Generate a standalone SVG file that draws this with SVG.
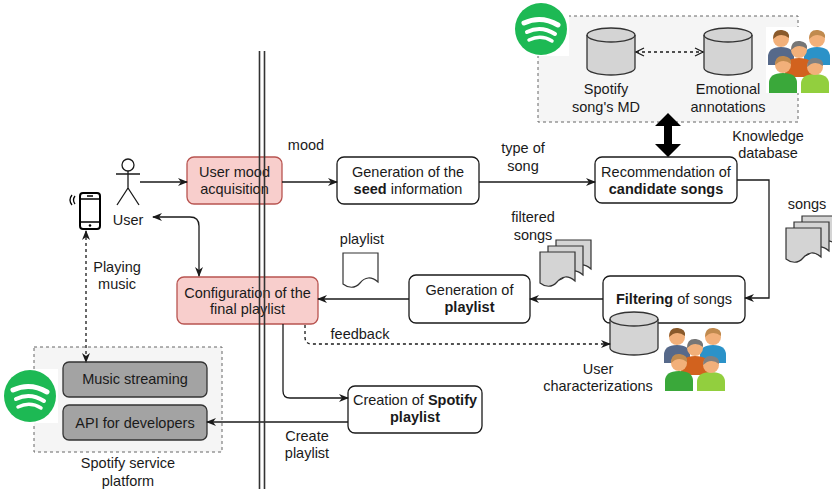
<svg xmlns="http://www.w3.org/2000/svg" width="832" height="489" viewBox="0 0 832 489">
  <style>
    text { font-family: "Liberation Sans", Arial, sans-serif; font-size: 14.5px; fill: #1a1a1a; text-anchor: middle; }
    .b { font-weight: bold; }
    .box { fill: #ffffff; stroke: #1a1a1a; stroke-width: 1.3; }
    .pink { fill: #f8cecc; stroke: #b85450; stroke-width: 1.3; }
    .dark { fill: #a3a3a3; stroke: #333333; stroke-width: 1.3; }
    .group { fill: #f5f5f5; stroke: #666666; stroke-width: 1; stroke-dasharray: 3 3; }
    .cyl { fill: #d4d4d4; stroke: #333333; stroke-width: 1.3; }
    .doc { fill: #d4d4d4; stroke: #333333; stroke-width: 1.2; }
    .edge { fill: none; stroke: #1a1a1a; stroke-width: 1.3; }
    .dash { fill: none; stroke: #1a1a1a; stroke-width: 1.3; stroke-dasharray: 3 3; }
    .rail { stroke: #333333; stroke-width: 1.6; }
    .skin { fill: #f2b07a; }
  </style>
  <defs>
    <marker id="arr" viewBox="0 0 10 10" refX="9" refY="5" markerWidth="10" markerHeight="10" markerUnits="userSpaceOnUse" orient="auto-start-reverse">
      <path d="M0,1 L10,5 L0,9 L3,5 Z" fill="#1a1a1a"/>
    </marker>
    <marker id="open" viewBox="0 0 10 10" refX="9" refY="5" markerWidth="10" markerHeight="10" markerUnits="userSpaceOnUse" orient="auto-start-reverse">
      <path d="M1,1 L9,5 L1,9" fill="none" stroke="#1a1a1a" stroke-width="1.2"/>
    </marker>
    <!-- Spotify badge: green disc with three white arcs -->
    <g id="spotify">
      <rect x="-28" y="-27" width="56" height="54" fill="#ffffff"/>
      <circle r="26" fill="#1db954"/>
      <path d="M-17,-6 Q0,-14 17,-4" fill="none" stroke="#ffffff" stroke-width="5" stroke-linecap="round"/>
      <path d="M-14,3 Q0,-4 14,5" fill="none" stroke="#ffffff" stroke-width="4" stroke-linecap="round"/>
      <path d="M-12,11 Q0,5 11,12" fill="none" stroke="#ffffff" stroke-width="3.5" stroke-linecap="round"/>
    </g>
    <!-- group of five people -->
    <g id="people">
      <rect x="0" y="0" width="66" height="66" fill="#ffffff"/>
      <path d="M2,38 V30 Q2,20 15,20 Q28,20 28,30 V38 Z" fill="#56698a"/>
      <circle class="skin" cx="15" cy="12" r="8"/>
      <path d="M7,12 Q7,2 16,3 Q24,4 23,11 Q17,6 11,9 Z" fill="#8a5a2b"/>
      <path d="M38,38 V30 Q38,20 51,20 Q64,20 64,30 V38 Z" fill="#2b92c8"/>
      <circle class="skin" cx="51" cy="12" r="8"/>
      <path d="M43,12 Q43,2 52,3 Q60,4 59,11 Q53,6 47,9 Z" fill="#c08a4e"/>
      <path d="M19,50 V41 Q19,31 33,31 Q47,31 47,41 V50 Z" fill="#d2621e"/>
      <circle class="skin" cx="33" cy="23" r="8"/>
      <path d="M25,23 Q25,13 34,14 Q42,15 41,22 Q35,17 29,20 Z" fill="#767676"/>
      <path d="M3,66 V56 Q3,46 17,46 Q31,46 31,56 V66 Z" fill="#3aa83a"/>
      <circle class="skin" cx="17" cy="38" r="8"/>
      <path d="M9,38 Q9,28 18,29 Q26,30 25,37 Q19,32 13,35 Z" fill="#c08a4e"/>
      <path d="M35,66 V57 Q35,47 49,47 Q63,47 63,57 V66 Z" fill="#92cf3e"/>
      <circle class="skin" cx="49" cy="40" r="8"/>
      <path d="M41,40 Q41,30 50,31 Q58,32 57,39 Q51,34 45,37 Z" fill="#808080"/>
    </g>
    <!-- document with wavy lower edge -->
    <path id="docshape" d="M0,0 H35 V29 C28,23 22,24 17,30 C12,36 5,35 0,31 Z"/>
  </defs>

  <!-- Knowledge database -->
  <g id="knowledge-db">
    <rect class="group" x="538" y="16" width="260" height="106"/>
    <use href="#spotify" x="541" y="29"/>
    <use href="#people" x="766" y="27"/>
    <text x="768" y="141">Knowledge</text>
    <text x="768" y="158">database</text>
  </g>
  <g id="songs-md">
    <path class="cyl" d="M587,35 A24,7 0 0 1 635,35 V68 A24,7 0 0 1 587,68 Z"/>
    <path fill="none" stroke="#333333" stroke-width="1.3" d="M587,35 A24,7 0 0 0 635,35"/>
    <text x="606" y="94">Spotify</text>
    <text x="606" y="112">song's MD</text>
  </g>
  <g id="emotional-annotations">
    <path class="cyl" d="M704,35 A24,7 0 0 1 752,35 V68 A24,7 0 0 1 704,68 Z"/>
    <path fill="none" stroke="#333333" stroke-width="1.3" d="M704,35 A24,7 0 0 0 752,35"/>
    <text x="728" y="94">Emotional</text>
    <text x="728" y="112">annotations</text>
  </g>

  <!-- Spotify service platform -->
  <g id="spotify-platform">
    <rect class="group" x="34" y="347" width="188" height="105"/>
    <use href="#spotify" x="30" y="396"/>
    <text x="128" y="468">Spotify service</text>
    <text x="128" y="486">platform</text>
  </g>
  <g id="music-streaming">
    <rect class="dark" x="63" y="362" width="144" height="35" rx="6"/>
    <text x="135" y="384">Music streaming</text>
  </g>
  <g id="api-developers">
    <rect class="dark" x="63" y="405" width="144" height="35" rx="6"/>
    <text x="135" y="428">API for developers</text>
  </g>

  <!-- User and device -->
  <g id="user" fill="none" stroke="#1a1a1a" stroke-width="1.3">
    <circle cx="128" cy="165" r="6" fill="#ffffff"/>
    <path d="M128,171 V188 M116,174 H140 M128,188 L117,205 M128,188 L139,205"/>
    <text x="128" y="225" stroke="none">User</text>
  </g>
  <g id="phone" fill="none" stroke="#000000">
    <rect x="80" y="193" width="20" height="36" rx="3" stroke-width="2"/>
    <path d="M81,199 H99 M81,222 H99 M87,196 H93" stroke-width="1.3"/>
    <circle cx="90" cy="225.5" r="1.3" fill="#000000" stroke="none"/>
    <path d="M75,196 Q72,200 75,204 M72,195 Q68,200 72,205" stroke-width="1.3"/>
  </g>

  <!-- Process steps -->
  <g id="user-mood">
    <rect class="pink" x="187" y="157" width="95" height="47" rx="7"/>
    <text x="234.5" y="177">User mood</text>
    <text x="234.5" y="194">acquisition</text>
  </g>
  <g id="seed">
    <rect class="box" x="337" y="157" width="142" height="47" rx="7"/>
    <text x="408" y="177">Generation of the</text>
    <text x="408" y="194"><tspan class="b">seed</tspan> information</text>
  </g>
  <g id="recommendation">
    <rect class="box" x="595" y="157" width="142" height="46" rx="7"/>
    <text x="666" y="177">Recommendation of</text>
    <text x="666" y="194" class="b">candidate songs</text>
  </g>
  <g id="filtering">
    <rect class="box" x="603" y="276" width="142" height="47" rx="7"/>
    <text x="674" y="304"><tspan class="b">Filtering</tspan> of songs</text>
  </g>
  <g id="user-characterizations">
    <path class="cyl" d="M610,319 A24,7 0 0 1 658,319 V348 A24,7 0 0 1 610,348 Z"/>
    <path fill="none" stroke="#333333" stroke-width="1.3" d="M610,319 A24,7 0 0 0 658,319"/>
    <use href="#people" x="662" y="325"/>
    <text x="598" y="374">User</text>
    <text x="598" y="391">characterizations</text>
  </g>
  <g id="generation-playlist">
    <rect class="box" x="409" y="275" width="121" height="48" rx="7"/>
    <text x="469.5" y="295">Generation of</text>
    <text x="469.5" y="312" class="b">playlist</text>
  </g>
  <g id="configuration">
    <rect class="pink" x="177" y="277" width="141" height="47" rx="7"/>
    <text x="247.5" y="298">Configuration of the</text>
    <text x="247.5" y="314">final playlist</text>
  </g>
  <g id="creation">
    <rect class="box" x="348" y="386" width="134" height="47" rx="7"/>
    <text x="415" y="405">Creation of <tspan class="b">Spotify</tspan></text>
    <text x="415" y="422" class="b">playlist</text>
  </g>

  <!-- Data items -->
  <g id="songs-docs">
    <use href="#docshape" class="doc" x="802" y="216"/>
    <use href="#docshape" class="doc" x="794" y="222"/>
    <use href="#docshape" class="doc" x="786" y="228"/>
    <text x="807" y="209">songs</text>
  </g>
  <g id="filtered-docs">
    <use href="#docshape" class="doc" x="556" y="240"/>
    <use href="#docshape" class="doc" x="548" y="246"/>
    <use href="#docshape" class="doc" x="540" y="252"/>
    <text x="533" y="222">filtered</text>
    <text x="533" y="240">songs</text>
  </g>
  <g id="playlist-doc">
    <use href="#docshape" x="343" y="253" fill="#ffffff" stroke="#333333" stroke-width="1.2"/>
    <text x="362" y="244">playlist</text>
  </g>

  <!-- Connectors -->
  <g id="connectors">
    <path class="edge" d="M140,182 H187" marker-end="url(#arr)"/>
    <path class="edge" d="M282,182 H337" marker-end="url(#arr)"/>
    <path class="edge" d="M479,182 H595" marker-end="url(#arr)"/>
    <path class="edge" d="M737,180 H769 V298 H745" marker-end="url(#arr)"/>
    <path class="edge" d="M603,299 H530" marker-end="url(#arr)"/>
    <path class="edge" d="M409,299 H318" marker-end="url(#arr)"/>
    <path class="edge" d="M153,217 H190 Q199,217 199,226 V276" marker-start="url(#arr)" marker-end="url(#arr)"/>
    <path class="dash" d="M86,231 V362" marker-start="url(#arr)" marker-end="url(#arr)"/>
    <path class="dash" d="M305,325 V337 Q305,344 312,344 H610" marker-end="url(#arr)"/>
    <path class="edge" d="M283,324 V391 Q283,398 290,398 H348" marker-end="url(#arr)"/>
    <path class="edge" d="M348,422 H207" marker-end="url(#arr)"/>
    <path class="dash" d="M636,52 H703" marker-start="url(#open)" marker-end="url(#open)"/>
    <polygon points="668,113 681,126 672,126 672,144 681,144 668,157 655,144 664,144 664,126 655,126" fill="#000000"/>
    <text x="306" y="150">mood</text>
    <text x="523" y="153">type of</text>
    <text x="523" y="171">song</text>
    <text x="117" y="272">Playing</text>
    <text x="117" y="289">music</text>
    <text x="360" y="339">feedback</text>
    <text x="307" y="441">Create</text>
    <text x="307" y="458">playlist</text>
  </g>

  <!-- System boundary: double rail -->
  <g id="boundary">
    <line class="rail" x1="259.5" y1="51" x2="259.5" y2="489"/>
    <line class="rail" x1="264.5" y1="51" x2="264.5" y2="489"/>
  </g>
</svg>
